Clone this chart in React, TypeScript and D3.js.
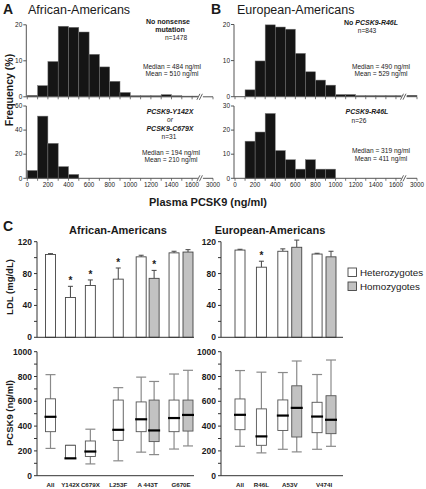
import React from "react";
import * as d3 from "d3";

const FONT = "'Liberation Sans', Arial, Helvetica, sans-serif";
const INK = "#1a1a1a";
const AXIS = "#555";

// ---------- Histogram data: % of subjects per 100 ng/ml bin ----------
const binStarts = [0, 100, 200, 300, 400, 500, 600, 700, 800, 900, 1000, 1100, 1200, 1300, 1400, 1500, 1600];
const aaNoNonsense = [0.4, 3.1, 9.8, 19.6, 19.3, 18.0, 11.8, 8.3, 4.3, 1.2, 0.3, 0.3, 0.3, 0.6, 0.3, 0.2, 0.2];
const aaNonsenseBins = [0, 100, 200, 300, 400];
const aaNonsense = [6.5, 51.6, 29.0, 9.7, 3.2];
const eaNoR46L = [0, 1.9, 9.9, 19.9, 19.3, 18.7, 12.0, 6.9, 4.6, 3.2, 0.6, 0.6, 0.3, 0.3, 0.3, 0.3, 0.3];
const eaNoR46LTail = [0.4]; // 1700–3000 bin
const eaR46LBins = [100, 200, 300, 400, 500, 600, 700, 800, 900];
const eaR46L = [15.4, 19.2, 26.9, 11.5, 7.7, 3.8, 7.7, 3.8, 3.8];
const xTickValues = [0, 100, 200, 300, 400, 500, 600, 700, 800, 900, 1000, 1100, 1200, 1300, 1400, 1500, 1600, 3000];
const xTickLabels = [0, 200, 400, 600, 800, 1000, 1200, 1400, 1600, 3000];

// ---------- LDL (mg/dL), bar height and top of error bar ----------
const aaCats = ["All", "Y142X", "C679X", "L253F", "A 443T", "G670E"];
const aaLdlHet = [104, 50, 65, 73, 101, 106];
const aaLdlHetErr = [105, 64, 72, 87, 103, 108];
const aaLdlHom = [null, null, null, null, 74, 107];
const aaLdlHomErr = [null, null, null, null, 84, 110];
const aaLdlHetSig = [false, true, true, true, false, false];
const aaLdlHomSig = [false, false, false, false, true, false];

const eaCats = ["All", "R46L", "A53V", "V474I"];
const eaLdlHet = [109.5, 88, 108, 104.5];
const eaLdlHetErr = [110.5, 95.5, 111, 105.5];
const eaLdlHom = [null, null, 113, 101];
const eaLdlHomErr = [null, null, 122, 108];
const eaLdlHetSig = [false, true, false, false];
const eaLdlHomSig = [false, false, false, false];

// ---------- PCSK9 box plots: [min, q1, median, q3, max] ----------
const aaBoxHet = [
  [220, 355, 475, 620, 815],
  [140, 140, 140, 245, 245],
  [95, 155, 195, 280, 375],
  [120, 285, 370, 610, 710],
  [190, 355, 455, 595, 795],
  [215, 355, 465, 610, 820],
];
const aaBoxHom = [null, null, null, null, [170, 275, 365, 610, 760], [240, 360, 490, 610, 850]];
const eaBoxHet = [
  [237, 371, 491, 619, 848],
  [184, 245, 317, 539, 835],
  [213, 365, 485, 611, 832],
  [213, 347, 477, 592, 816],
];
const eaBoxHom = [null, null, [192, 312, 547, 725, 925], [237, 339, 451, 645, 933]];

// layout slots (ordinal positions along the x axis)
const aaSlotHet = [0, 1, 2, 3.4, 4.55, 6.2];
const aaSlotHom = [null, null, null, null, 5.2, 6.9];
const eaSlotHet = [0, 1, 2, 3.6];
const eaSlotHom = [null, null, 2.65, 4.25];

const ldlTicks = [0, 20, 40, 60, 80, 100, 120];
const boxTicks = [0, 100, 200, 300, 400, 500, 600, 700, 800, 900, 1000];

type HistProps = {
  x0: number; x1700: number; xEnd: number;
  yBottom: number; yTop: number; yMax: number; yTicks: number[];
  bins: number[]; values: number[]; tail?: number[]; labels: boolean;
};

function Histogram(p: HistProps) {
  const x = d3.scaleLinear().domain([0, 1700, 3000]).range([p.x0, p.x1700, p.xEnd]);
  const y = d3.scaleLinear().domain([0, p.yMax]).range([p.yBottom, p.yTop]);
  const bx = x(1700) - 1.5;
  return (
    <g>
      {p.bins.map((b, i) => (
        <rect key={i} x={x(b)} y={y(p.values[i])} width={x(b + 100) - x(b)}
          height={y(0) - y(p.values[i])} fill="#151515" stroke="#777" strokeWidth={0.5} />
      ))}
      {p.tail && p.tail.map((v, i) => (
        <rect key={"t" + i} x={x(1700) + 1} y={y(v)} width={x(3000) - x(1700) - 1}
          height={y(0) - y(v)} fill="#151515" stroke="#777" strokeWidth={0.5} />
      ))}
      <line x1={p.x0 - 1} x2={p.xEnd} y1={y(0)} y2={y(0)} stroke={AXIS} strokeWidth={1} />
      <line x1={p.x0 - 1} x2={p.x0 - 1} y1={y(0)} y2={y(p.yMax)} stroke={AXIS} strokeWidth={1} />
      {p.yTicks.map((t) => (
        <g key={t}>
          <line x1={p.x0 - 4} x2={p.x0 - 1} y1={y(t)} y2={y(t)} stroke={AXIS} />
          <text x={p.x0 - 5} y={y(t) + 2.2} fontSize={6.5} textAnchor="end" fill={INK}>{t}</text>
        </g>
      ))}
      {xTickValues.map((t) => (
        <line key={t} x1={x(t)} x2={x(t)} y1={y(0)} y2={y(0) + 2.5} stroke={AXIS} strokeWidth={0.8} />
      ))}
      {p.labels && xTickLabels.map((t) => (
        <text key={t} x={x(t)} y={y(0) + 9} fontSize={6.3} textAnchor="middle" fill={INK}>{t}</text>
      ))}
      <rect x={bx - 3} y={y(0) - 1.5} width={5} height={3} fill="#fff" />
      <line x1={bx - 4} x2={bx - 1} y1={y(0) + 3} y2={y(0) - 3} stroke={AXIS} strokeWidth={0.9} />
      <line x1={bx - 1.5} x2={bx + 1.5} y1={y(0) + 3} y2={y(0) - 3} stroke={AXIS} strokeWidth={0.9} />
    </g>
  );
}

type LdlProps = {
  axisX: number; axisEnd: number; slotDomain: number; xRange: [number, number];
  cats: string[]; het: number[]; hetErr: number[]; hom: (number | null)[]; homErr: (number | null)[];
  hetSig: boolean[]; homSig: boolean[]; slotHet: number[]; slotHom: (number | null)[];
};

const BW = 10;

function LdlBars(p: LdlProps) {
  const x = d3.scaleLinear().domain([0, p.slotDomain]).range(p.xRange);
  const y = d3.scaleLinear().domain([0, 120]).range([337.3, 241.7]);
  const bar = (v: number, e: number, s: number, fill: string, sig: boolean, k: string) => (
    <g key={k}>
      <line x1={x(s)} x2={x(s)} y1={y(v)} y2={y(e)} stroke="#444" strokeWidth={1} />
      <line x1={x(s) - 2.5} x2={x(s) + 2.5} y1={y(e)} y2={y(e)} stroke="#444" strokeWidth={1} />
      <rect x={x(s) - BW / 2} y={y(v)} width={BW} height={y(0) - y(v)} fill={fill} stroke="#444" strokeWidth={0.9} />
      {sig && <text x={x(s)} y={y(e) - 2} fontSize={10} fontWeight="bold" textAnchor="middle" fill={INK}>*</text>}
    </g>
  );
  return (
    <g>
      {p.cats.map((c, i) => bar(p.het[i], p.hetErr[i], p.slotHet[i], "#fff", p.hetSig[i], "h" + i))}
      {p.cats.map((c, i) => p.hom[i] != null ? bar(p.hom[i] as number, p.homErr[i] as number, p.slotHom[i] as number, "#c2c2c2", p.homSig[i], "m" + i) : null)}
      <line x1={p.axisX} x2={p.axisEnd} y1={y(0)} y2={y(0)} stroke="#333" strokeWidth={1} />
      <line x1={p.axisX} x2={p.axisX} y1={y(0)} y2={y(120)} stroke="#333" strokeWidth={1} />
      {ldlTicks.map((t) => (
        <g key={t}>
          <line x1={p.axisX - 3} x2={p.axisX} y1={y(t)} y2={y(t)} stroke="#333" />
          {t % 40 === 0 && <text x={p.axisX - 5} y={y(t) + 3} fontSize={8.5} fontWeight="bold" textAnchor="end" fill={INK}>{t}</text>}
        </g>
      ))}
    </g>
  );
}

type BoxProps = {
  axisX: number; axisEnd: number; slotDomain: number; xRange: [number, number];
  cats: string[]; het: number[][]; hom: (number[] | null)[]; slotHet: number[]; slotHom: (number | null)[];
};

function Boxes(p: BoxProps) {
  const x = d3.scaleLinear().domain([0, p.slotDomain]).range(p.xRange);
  const y = d3.scaleLinear().domain([0, 1000]).range([475.7, 351.7]);
  const box = (d: number[], s: number, fill: string, k: string) => {
    const cx = x(s);
    return (
      <g key={k}>
        <line x1={cx} x2={cx} y1={y(d[0])} y2={y(d[1])} stroke="#8a8a8a" strokeWidth={1.2} />
        <line x1={cx} x2={cx} y1={y(d[3])} y2={y(d[4])} stroke="#8a8a8a" strokeWidth={1.2} />
        <line x1={cx - 5} x2={cx + 5} y1={y(d[0])} y2={y(d[0])} stroke="#8a8a8a" strokeWidth={1.2} />
        <line x1={cx - 5} x2={cx + 5} y1={y(d[4])} y2={y(d[4])} stroke="#8a8a8a" strokeWidth={1.2} />
        <rect x={cx - BW / 2} y={y(d[3])} width={BW} height={y(d[1]) - y(d[3])} fill={fill} stroke="#555" strokeWidth={0.9} />
        <line x1={cx - 6} x2={cx + 6} y1={y(d[2])} y2={y(d[2])} stroke="#000" strokeWidth={2.2} />
      </g>
    );
  };
  return (
    <g>
      {p.het.map((d, i) => box(d, p.slotHet[i], "#fff", "h" + i))}
      {p.hom.map((d, i) => d ? box(d, p.slotHom[i] as number, "#c2c2c2", "m" + i) : null)}
      <line x1={p.axisX} x2={p.axisEnd} y1={y(0)} y2={y(0)} stroke="#333" strokeWidth={1} />
      <line x1={p.axisX} x2={p.axisX} y1={y(0)} y2={y(1000)} stroke="#333" strokeWidth={1} />
      {boxTicks.map((t) => (
        <g key={t}>
          <line x1={p.axisX - 3} x2={p.axisX} y1={y(t)} y2={y(t)} stroke="#333" />
          {t % 200 === 0 && <text x={p.axisX - 5} y={y(t) + 3} fontSize={8.5} fontWeight="bold" textAnchor="end" fill={INK}>{t}</text>}
        </g>
      ))}
      {p.cats.map((c, i) => {
        const s = p.slotHom[i] != null ? (p.slotHet[i] + (p.slotHom[i] as number)) / 2 : p.slotHet[i];
        return <text key={c} x={x(s)} y={487} fontSize={6.2} fontWeight="bold" textAnchor="middle" fill={INK}>{c}</text>;
      })}
    </g>
  );
}

export default function App() {
  const small = 6.6;
  return (
    <svg width={426} height={489} viewBox="0 0 426 489"
      style={{ position: "absolute", left: 0, top: 0, background: "#fff" }} fontFamily={FONT}>
      <rect width={426} height={489} fill="#fff" />
      {/* Panel titles */}
      <text x={3} y={14} fontSize={14} fontWeight="bold" fill={INK}>A</text>
      <text x={28} y={14} fontSize={12.5} fill={INK}>African-Americans</text>
      <text x={211} y={14} fontSize={14} fontWeight="bold" fill={INK}>B</text>
      <text x={237} y={14} fontSize={12.5} fill={INK}>European-Americans</text>

      <text transform="translate(13,90) rotate(-90)" fontSize={10.5} fontWeight="bold" textAnchor="middle" fill={INK}>Frequency (%)</text>

      <Histogram x0={27.3} x1700={202.4} xEnd={213} yBottom={96.8} yTop={24.8} yMax={20} yTicks={[0, 10, 20]}
        bins={binStarts} values={aaNoNonsense} labels={false} />
      <Histogram x0={27.3} x1700={202.4} xEnd={213} yBottom={178.3} yTop={106} yMax={60} yTicks={[0, 20, 40, 60]}
        bins={aaNonsenseBins} values={aaNonsense} labels={true} />
      <Histogram x0={235} x1700={406} xEnd={417} yBottom={96.7} yTop={24.5} yMax={20} yTicks={[0, 10, 20]}
        bins={binStarts} values={eaNoR46L} tail={eaNoR46LTail} labels={false} />
      <Histogram x0={235} x1700={406} xEnd={417} yBottom={178.3} yTop={106} yMax={30} yTicks={[0, 10, 20, 30]}
        bins={eaR46LBins} values={eaR46L} labels={true} />

      {/* Histogram annotations */}
      <g fill={INK} textAnchor="middle">
        <text x={168} y={23.5} fontSize={7} fontWeight="bold">No nonsense</text>
        <text x={170} y={31.5} fontSize={7} fontWeight="bold">mutation</text>
        <text x={176} y={39.5} fontSize={small}>n=1478</text>
        <text x={172} y={68.5} fontSize={small}>Median = 484 ng/ml</text>
        <text x={172} y={76} fontSize={small}>Mean = 510 ng/ml</text>

        <text x={170} y={114} fontSize={7} fontWeight="bold" fontStyle="italic">PCSK9-Y142X</text>
        <text x={170} y={121.5} fontSize={small} fontStyle="italic">or</text>
        <text x={170} y={131} fontSize={7} fontWeight="bold" fontStyle="italic">PCSK9-C679X</text>
        <text x={169} y={138.5} fontSize={small}>n=31</text>
        <text x={171} y={154.5} fontSize={small}>Median = 194 ng/ml</text>
        <text x={171} y={161.5} fontSize={small}>Mean = 210 ng/ml</text>

        <text x={371} y={24.5} fontSize={7} fontWeight="bold">No <tspan fontStyle="italic">PCSK9-R46L</tspan></text>
        <text x={367} y={33} fontSize={small}>n=843</text>
        <text x={381} y={68.5} fontSize={small}>Median = 490 ng/ml</text>
        <text x={381} y={76} fontSize={small}>Mean = 529 ng/ml</text>

        <text x={367} y={114} fontSize={7} fontWeight="bold" fontStyle="italic">PCSK9-R46L</text>
        <text x={359} y={122.5} fontSize={small}>n=26</text>
        <text x={381} y={153} fontSize={small}>Median = 319 ng/ml</text>
        <text x={381} y={161} fontSize={small}>Mean = 411 ng/ml</text>
      </g>

      <text x={208} y={206} fontSize={11} fontWeight="bold" textAnchor="middle" fill={INK}>Plasma PCSK9 (ng/ml)</text>

      {/* Panel C */}
      <text x={3} y={231} fontSize={14} fontWeight="bold" fill={INK}>C</text>
      <text x={118} y={234} fontSize={11} fontWeight="bold" textAnchor="middle" fill={INK}>African-Americans</text>
      <text x={270} y={234} fontSize={11} fontWeight="bold" textAnchor="middle" fill={INK}>European-Americans</text>

      <text transform="translate(12.5,287) rotate(-90)" fontSize={9.5} fontWeight="bold" textAnchor="middle" fill={INK}>LDL (mg/dL)</text>
      <text transform="translate(12.5,413) rotate(-90)" fontSize={9.5} fontWeight="bold" textAnchor="middle" fill={INK}>PCSK9 (ng/ml)</text>

      <LdlBars axisX={37} axisEnd={194} slotDomain={6.9} xRange={[50.5, 188]} cats={aaCats}
        het={aaLdlHet} hetErr={aaLdlHetErr} hom={aaLdlHom} homErr={aaLdlHomErr}
        hetSig={aaLdlHetSig} homSig={aaLdlHomSig} slotHet={aaSlotHet} slotHom={aaSlotHom} />
      <LdlBars axisX={221} axisEnd={343} slotDomain={4.25} xRange={[240, 331]} cats={eaCats}
        het={eaLdlHet} hetErr={eaLdlHetErr} hom={eaLdlHom} homErr={eaLdlHomErr}
        hetSig={eaLdlHetSig} homSig={eaLdlHomSig} slotHet={eaSlotHet} slotHom={eaSlotHom} />

      <Boxes axisX={37} axisEnd={194} slotDomain={6.9} xRange={[50.5, 188]} cats={aaCats}
        het={aaBoxHet} hom={aaBoxHom} slotHet={aaSlotHet} slotHom={aaSlotHom} />
      <Boxes axisX={221} axisEnd={343} slotDomain={4.25} xRange={[240, 331]} cats={eaCats}
        het={eaBoxHet} hom={eaBoxHom} slotHet={eaSlotHet} slotHom={eaSlotHom} />

      {/* Legend */}
      <rect x={348} y={268} width={8.5} height={8.5} fill="#fff" stroke="#444" strokeWidth={0.9} />
      <text x={360} y={275.8} fontSize={9.8} fill={INK}>Heterozygotes</text>
      <rect x={348} y={282} width={8.5} height={8.5} fill="#c2c2c2" stroke="#444" strokeWidth={0.9} />
      <text x={360} y={289.8} fontSize={9.8} fill={INK}>Homozygotes</text>
    </svg>
  );
}
